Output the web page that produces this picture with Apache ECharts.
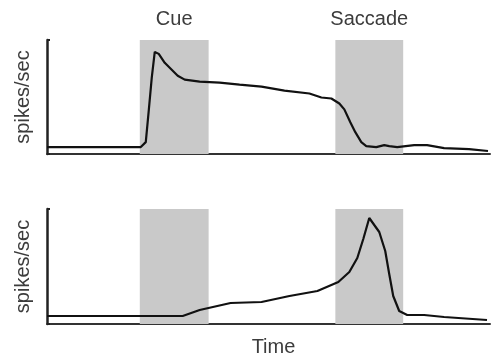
<!DOCTYPE html>
<html>
<head>
<meta charset="utf-8">
<script src="https://cdn.jsdelivr.net/npm/echarts@6/dist/echarts.min.js"></script>
<style>
  html, body { margin: 0; padding: 0; background: #fff; }
  #chart { width: 492px; height: 358px; }
</style>
</head>
<body>
<div id="chart"></div>
<script>
// Task epochs (time units along the shared x axis)
const cueWindow = [93, 162];
const saccadeWindow = [289, 357];
const epochNames = ['Cue', 'Saccade'];

// Upper cell: phasic cue response, sustained delay activity, drop at saccade
const topTime = [0, 94, 96, 99, 102, 105, 108, 112, 118, 125, 131, 138, 153, 173, 193, 215, 238, 263, 275, 285, 293, 298, 304, 309, 315, 320, 330, 338, 343, 351, 368, 381, 398, 423, 442];
const topRate = [7, 7, 8, 12, 44, 77, 103, 101, 92, 85, 79, 75, 73, 72, 70, 68, 64, 61, 57, 56, 51, 45, 32, 22, 12, 8, 7, 9, 8, 7, 9, 9, 6, 5, 3];

// Lower cell: ramping activity peaking at the saccade
const bottomTime = [0, 136, 153, 184, 215, 243, 271, 292, 303, 311, 317, 323, 333, 339, 343, 347, 353, 361, 378, 398, 441];
const bottomRate = [8, 8, 14, 21, 22, 28, 33, 42, 52, 66, 85, 106, 92, 73, 50, 28, 13, 9, 9, 7, 4];

const rateMax = 115;
const timeMax = 444;

const textColor = '#3c3c3c';
const font = 'Liberation Sans, Arial, Helvetica, sans-serif';

function pairs(t, v) { return t.map((x, i) => [x, v[i]]); }

function xAxisFor(gridIndex, showName) {
  return {
    gridIndex, type: 'value', min: 0, max: timeMax,
    axisLine: { show: true, onZero: false, lineStyle: { color: '#333', width: 2 } },
    axisTick: { show: false }, axisLabel: { show: false }, splitLine: { show: false },
    name: showName ? 'Time' : '', nameLocation: 'middle', nameGap: 13,
    nameTextStyle: { fontSize: 20, color: textColor, fontFamily: font, padding: [0, 0, 0, 10] }
  };
}
function yAxisFor(gridIndex) {
  return {
    gridIndex, type: 'value', min: 0, max: rateMax, interval: rateMax,
    axisLine: { show: true, lineStyle: { color: '#222', width: 2.5 } },
    axisTick: { show: true, inside: true, length: 3, lineStyle: { color: '#222', width: 2 } },
    axisLabel: { show: false }, splitLine: { show: false },
    name: 'spikes/sec', nameLocation: 'middle', nameRotate: 90, nameGap: 14,
    nameTextStyle: { fontSize: 20, color: textColor, fontFamily: font }
  };
}
function epochAreas(withLabels) {
  return [cueWindow, saccadeWindow].map((w, i) => [
    { xAxis: w[0], yAxis: rateMax, name: withLabels ? epochNames[i] : '' },
    { xAxis: w[1], yAxis: 0 }
  ]);
}
function cellSeries(idx, t, v, withLabels) {
  return {
    type: 'line', xAxisIndex: idx, yAxisIndex: idx,
    data: pairs(t, v), symbol: 'none', smooth: false,
    lineStyle: { color: '#111', width: 2.2 },
    z: 5,
    markArea: {
      silent: true,
      itemStyle: { color: '#c9c9c9' },
      label: { show: withLabels, position: 'top', distance: 11, fontSize: 20, color: textColor, fontFamily: font },
      data: epochAreas(withLabels)
    }
  };
}

const chart = echarts.init(document.getElementById('chart'), null, { renderer: 'canvas' });
chart.setOption({
  animation: false,
  backgroundColor: '#fff',
  grid: [
    { left: 47, right: 2, top: 40, height: 114 },
    { left: 47, right: 2, top: 209, height: 116 }
  ],
  xAxis: [xAxisFor(0, false), xAxisFor(1, true)],
  yAxis: [yAxisFor(0), yAxisFor(1)],
  series: [
    cellSeries(0, topTime, topRate, true),
    cellSeries(1, bottomTime, bottomRate, false)
  ]
});
</script>
</body>
</html>
